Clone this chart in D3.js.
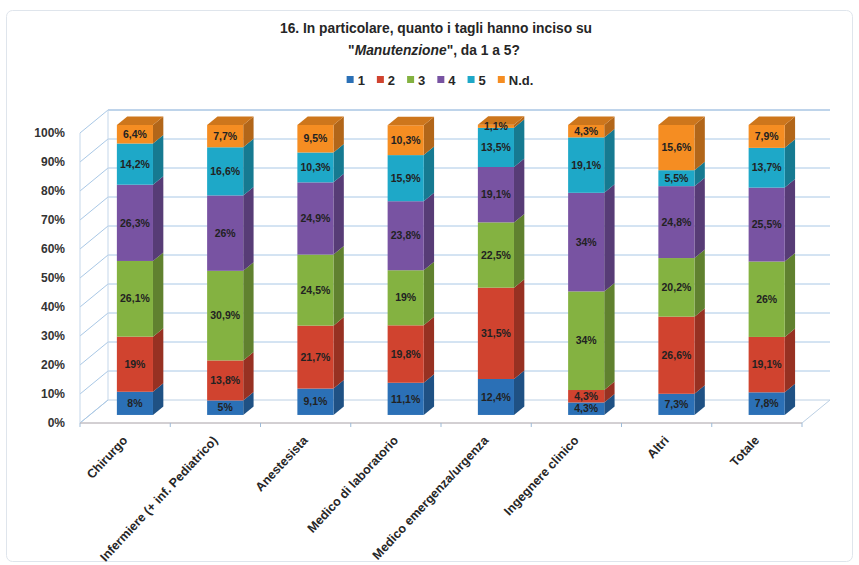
<!DOCTYPE html>
<html><head><meta charset="utf-8">
<script src="https://cdn.jsdelivr.net/npm/d3@7"></script>
<style>
body{margin:0;background:#fff;}
svg{display:block;font-family:"Liberation Sans",Arial,sans-serif;}
</style></head>
<body>
<svg id="chart" width="859" height="565"></svg>
<script>
const categories = ["Chirurgo","Infermiere (+ inf. Pediatrico)","Anestesista","Medico di laboratorio","Medico emergenza/urgenza","Ingegnere clinico","Altri","Totale"];
const seriesNames = ["1","2","3","4","5","N.d."];
const s1  = [8, 5, 9.1, 11.1, 12.4, 4.3, 7.3, 7.8];
const s2  = [19, 13.8, 21.7, 19.8, 31.5, 4.3, 26.6, 19.1];
const s3  = [26.1, 30.9, 24.5, 19, 22.5, 34, 20.2, 26];
const s4  = [26.3, 26, 24.9, 23.8, 19.1, 34, 24.8, 25.5];
const s5  = [14.2, 16.6, 10.3, 15.9, 13.5, 19.1, 5.5, 13.7];
const sNd = [6.4, 7.7, 9.5, 10.3, 1.1, 4.3, 15.6, 7.9];
const yTicks = [0,10,20,30,40,50,60,70,80,90,100];
const colors = ["#2b70b6","#d0432f","#84b241","#7853a2","#1ea8c8","#f58d22"];

const series = [s1,s2,s3,s4,s5,sNd];
const svg = d3.select("#chart");

// chart border
svg.append("rect").attr("x",6.5).attr("y",10.5).attr("width",846).attr("height",551)
  .attr("rx",6).attr("fill","#fff").attr("stroke","#dfe5ec");

// title
const title = svg.append("g").attr("fill","#262626").attr("font-weight","bold").attr("font-size",13.8).attr("text-anchor","middle");
title.append("text").attr("x",436).attr("y",33).text("16. In particolare, quanto i tagli hanno inciso su");
const t2 = title.append("text").attr("x",434).attr("y",55);
t2.append("tspan").text("\"");
t2.append("tspan").attr("font-style","italic").text("Manutenzione");
t2.append("tspan").text("\", da 1 a 5?");

// legend
const leg = svg.append("g").attr("font-weight","bold").attr("font-size",13).attr("fill","#262626");
let lx = 0;
seriesNames.forEach((n,i)=>{
  const g = leg.append("g").attr("transform",`translate(${lx},0)`);
  g.append("rect").attr("x",0).attr("y",-4).attr("width",7).attr("height",7).attr("fill",colors[i]);
  const t = g.append("text").attr("x",11).attr("y",0).attr("dy","0.35em").text(n);
  lx += 11 + t.node().getComputedTextLength() + 12;
});
const legW = lx - 12;
leg.attr("transform",`translate(${440 - legW/2},80)`);

// geometry
const x = d3.scaleBand().domain(categories).range([80,802]);
const y = d3.scaleLinear().domain([0,100]).range([423,133]);
const DX = 28, DY = -23;
const t0 = 0.35, t1 = 0.72;
const grid = "#a9c8e6";

// walls & grid
const walls = svg.append("g");
walls.append("path")
  .attr("d",`M${x.range()[0]},${y(0)}L${x.range()[1]},${y(0)}L${x.range()[1]+DX},${y(0)+DY}L${x.range()[0]+DX},${y(0)+DY}Z`)
  .attr("fill","#fff").attr("stroke","#bcd0e4");
yTicks.forEach(v=>{
  walls.append("line").attr("x1",x.range()[0]).attr("y1",y(v)).attr("x2",x.range()[0]+DX).attr("y2",y(v)+DY)
    .attr("stroke",grid);
  if (v>0) walls.append("line").attr("x1",x.range()[0]+DX).attr("y1",y(v)+DY).attr("x2",x.range()[1]+DX).attr("y2",y(v)+DY)
    .attr("stroke", v===100 ? "#7fa9d6" : grid);
});
walls.append("line").attr("x1",x.range()[0]).attr("y1",y(0)).attr("x2",x.range()[0]).attr("y2",y(100)).attr("stroke","#c5d7ea");
walls.append("line").attr("x1",x.range()[0]+DX).attr("y1",y(0)+DY).attr("x2",x.range()[0]+DX).attr("y2",y(100)+DY).attr("stroke","#c5d7ea");
walls.append("line").attr("x1",x.range()[0]).attr("y1",y(0)).attr("x2",x.range()[1]).attr("y2",y(0)).attr("stroke","#c9b8b4");
categories.concat([null]).forEach((c,i)=>{
  const xx = x.range()[0] + i*x.step();
  walls.append("line").attr("x1",xx).attr("y1",y(0)).attr("x2",xx).attr("y2",y(0)+4).attr("stroke","#9dbbd8");
});

// y axis labels
const yAxis = svg.append("g").attr("transform",`translate(${x.range()[0]},0)`)
  .call(d3.axisLeft(y).tickValues(yTicks).tickFormat(d=>d+"%").tickSize(0).tickPadding(15));
yAxis.select(".domain").remove();
yAxis.selectAll("text").attr("font-family","Liberation Sans, Arial, sans-serif").attr("font-size",12).attr("font-weight","bold").attr("fill","#333");

// x axis labels
const xAxis = svg.append("g").attr("transform",`translate(0,${y(0)})`)
  .call(d3.axisBottom(x).tickSize(0).tickPadding(0));
xAxis.select(".domain").remove();
xAxis.selectAll(".tick text")
  .attr("font-family","Liberation Sans, Arial, sans-serif").attr("font-size",12.5).attr("font-weight","bold").attr("fill","#262626")
  .attr("text-anchor","end").attr("dy",0).attr("y",0)
  .attr("transform","translate(3,18) rotate(-47)");

// bars
const bw = x.bandwidth()*0.4;
const fx0 = t0*DX, fy0 = t0*DY, bdx = (t1-t0)*DX, bdy = (t1-t0)*DY;
const fmt = v => String(v).replace(".",",") + "%";
const bars = svg.append("g");
categories.forEach((c,ci)=>{
  const bx = x(c) + x.bandwidth()*0.3 + fx0;
  let acc = 0;
  const g = bars.append("g");
  series.forEach((s,si)=>{
    const v = s[ci];
    const ya = y(acc) + fy0, yb = y(acc+v) + fy0;
    const col = d3.color(colors[si]);
    g.append("path").attr("d",`M${bx+bw},${ya}L${bx+bw+bdx},${ya+bdy}L${bx+bw+bdx},${yb+bdy}L${bx+bw},${yb}Z`)
      .attr("fill",col.darker(0.9));
    g.append("rect").attr("x",bx).attr("y",yb).attr("width",bw).attr("height",ya-yb).attr("fill",col);
    if (si===series.length-1){
      g.append("path").attr("d",`M${bx},${yb}L${bx+bw},${yb}L${bx+bw+bdx},${yb+bdy}L${bx+bdx},${yb+bdy}Z`)
        .attr("fill",col.darker(0.5));
    }
    g.append("text").attr("x",bx+bw/2).attr("y",(ya+yb)/2).attr("dy","0.35em")
      .attr("text-anchor","middle").attr("font-size",10.5).attr("font-weight","bold").attr("fill","#222")
      .text(fmt(v));
    acc += v;
  });
});
</script>
</body></html>
